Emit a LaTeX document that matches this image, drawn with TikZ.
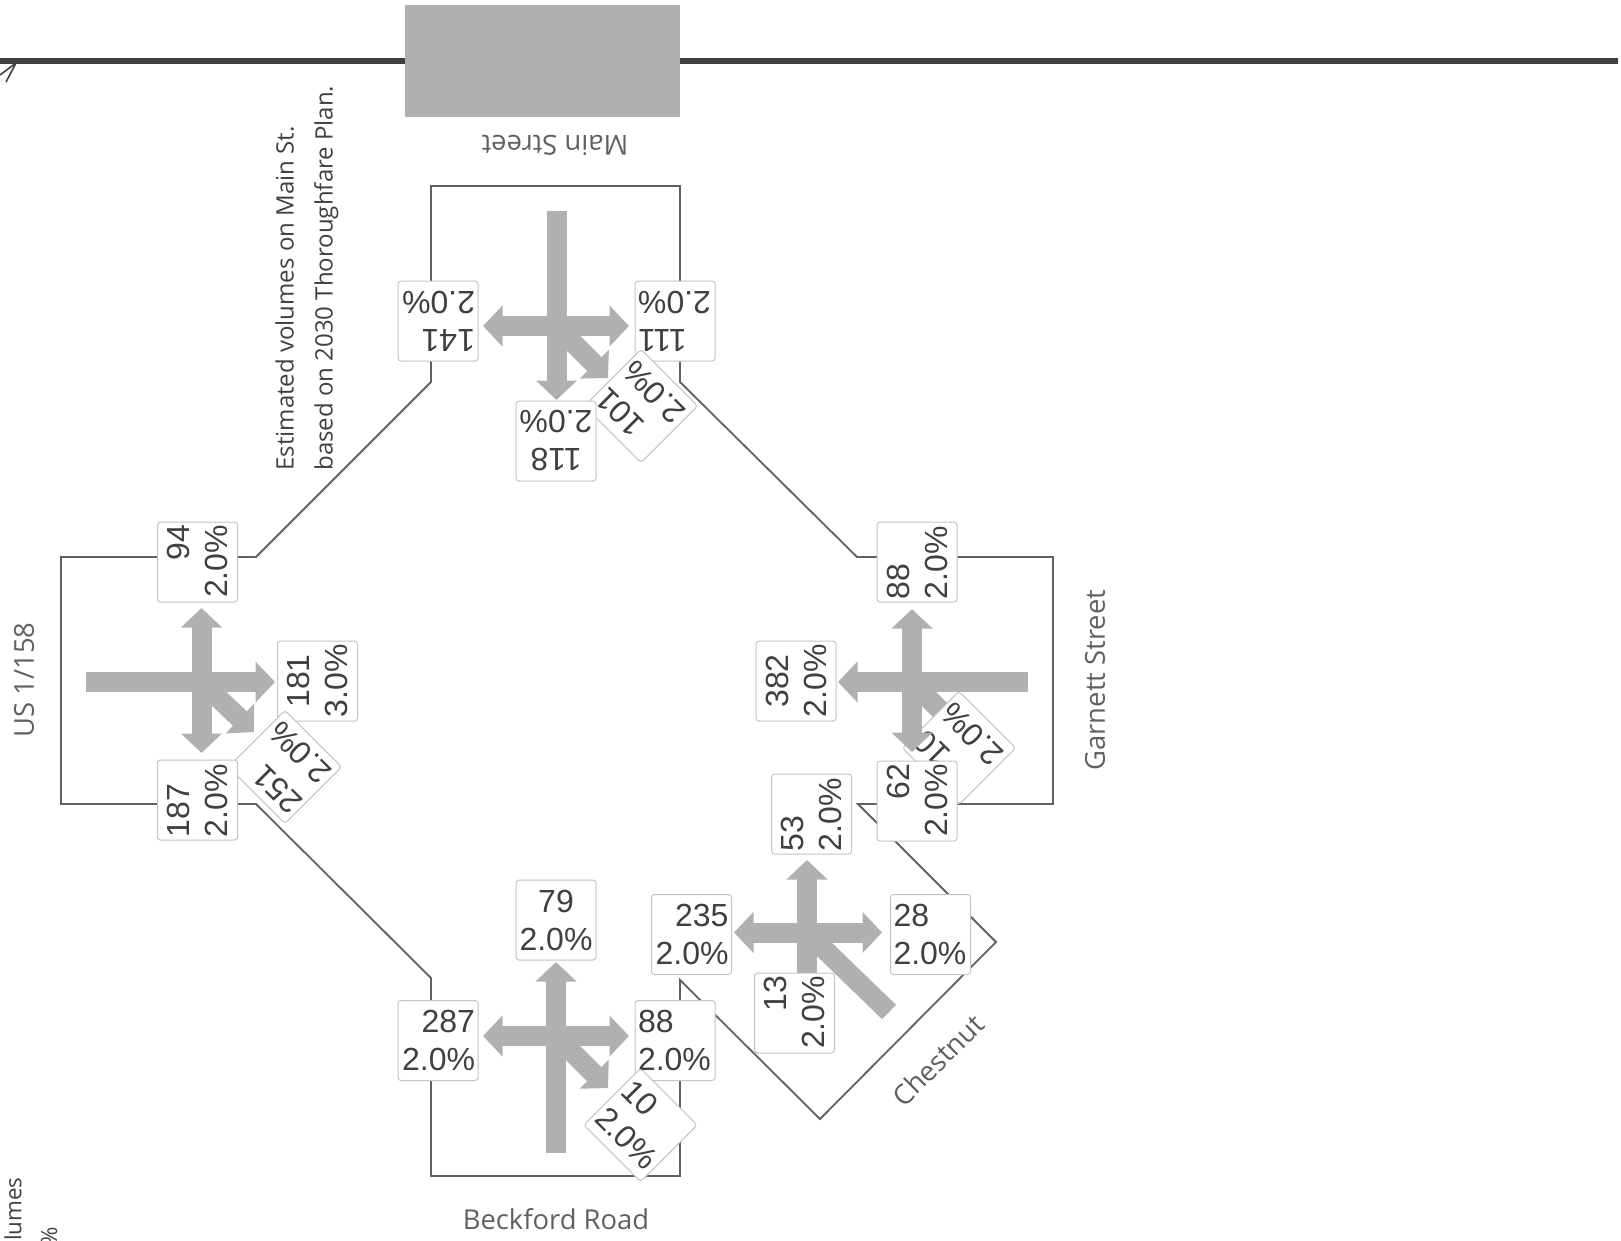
\documentclass[tikz,border=0pt]{standalone}
\usepackage{fontspec}
\usepackage{xcolor}
\setmainfont{Liberation Sans}
\newfontfamily\labelfont{Open Sans}
\usetikzlibrary{arrows.meta}
\definecolor{flowgray}{HTML}{B0B0B0}
\definecolor{roadgray}{HTML}{606060}
\definecolor{boxline}{HTML}{C4C4C4}
\definecolor{valtext}{HTML}{404040}

\begin{document}
\begin{tikzpicture}[
  x=0.5pt, y=-0.5pt,
  road/.style={draw=roadgray, line width=0.9pt, line join=miter},
  mainline/.style={draw=valtext, line width=2.6pt},
  flow/.style={draw=flowgray, line width=10pt, -{Triangle[length=9.75pt, width=20pt]}},
  flowboth/.style={draw=flowgray, line width=10pt, {Triangle[length=9.75pt, width=20pt]}-{Triangle[length=9.75pt, width=20pt]}},
  flowplain/.style={draw=flowgray, line width=10pt},
  valbox/.style={draw=boxline, line width=0.5pt, fill=white, rounded corners=1.5pt, minimum size=40pt, inner sep=0pt, text width=37pt, text=valtext, font=\fontsize{16}{19}\selectfont},
  streetname/.style={text=roadgray, font=\labelfont\fontsize{13.7}{15}\selectfont},
  note/.style={text=valtext, font=\labelfont\fontsize{12}{19.5}\selectfont},
  cutnote/.style={text=valtext, font=\labelfont\fontsize{11.2}{13}\selectfont}
]
\clip (0,0) rectangle (1621,1241);
\useasboundingbox (0,0) rectangle (1621,1241);

\coordinate (linestart) at (0,61);
\coordinate (lineend) at (1618,61);
\draw[mainline] (linestart) -- (lineend);
\node[fill=flowgray, minimum width=137.5pt, minimum height=56pt, inner sep=0pt] (mainbox) at (542.5,61) {};

\coordinate (tickleft) at (0,75);
\coordinate (ticktip) at (16,63);
\coordinate (tickend) at (6,82);
\draw[draw=valtext, line width=0.8pt] (tickleft) -- (ticktip) -- (tickend);

\node[streetname, rotate=180] (mainst) at (555,145) {Main Street};
\node[streetname, rotate=90] (usroute) at (24,680) {US 1/158};
\node[streetname, rotate=90] (garnett) at (1095,680) {Garnett Street};
\node[streetname] (beckford) at (556,1219) {Beckford Road};
\node[streetname, rotate=45] (chestnut) at (938,1060) {Chestnut};
\node[note, rotate=90, anchor=north west, align=left, inner sep=0pt] (estnote) at (275,471) {Estimated volumes on Main St.\\based on 2030 Thoroughfare Plan.};
\node[cutnote, rotate=90, anchor=east, inner sep=0pt] (cutvol) at (13,1177) {lumes};
\node[cutnote, rotate=90, anchor=east, inner sep=0pt] (cutpct) at (49,1227) {\%};

% road outline
\draw[road] (431,382) -- (431,186) -- (680,186) -- (680,382) -- (857,557) -- (1053,557) -- (1053,804) -- (858,804)
  -- (996,942) -- (820,1119) -- (680,980) -- (680,1176) -- (431,1176) -- (431,978) -- (256,804) -- (61,804)
  -- (61,557) -- (256,557) -- cycle;

% Main Street
\coordinate (tc) at (556.5,326);
\coordinate (tn) at (556.5,211);
\coordinate (ts) at (556.5,400);
\coordinate (te) at (629,326);
\coordinate (tw) at (483,326);
\coordinate (td) at (608,378);
\draw[flow] (tc) -- (td);
\draw[flowboth] (tw) -- (te);
\draw[flow] (tn) -- (ts);
\node[valbox, align=left, rotate=180] (v141) at (438,321) {141\\2.0\%};
\node[valbox, align=right, rotate=180] (v111) at (675,321) {111\\2.0\%};
\node[valbox, align=right, rotate=135] (v101) at (641,406) {101\\2.0\%};
\node[valbox, align=center, rotate=180] (v118) at (556,441) {118\\2.0\%};

% US 1/158
\coordinate (lc) at (201.5,682);
\coordinate (ln) at (201.5,608);
\coordinate (ls) at (201.5,753);
\coordinate (le) at (275,682);
\coordinate (lw) at (86,682);
\coordinate (ld) at (254,732);
\draw[flow] (lc) -- (ld);
\draw[flow] (lw) -- (le);
\draw[flowboth] (ln) -- (ls);
\node[valbox, align=center, rotate=90] (v181) at (317.5,681) {181\\3.0\%};
\node[valbox, align=left, rotate=135] (v251) at (285,767) {251\\[2pt]2.0\%};
\node[valbox, align=right, rotate=90] (v94) at (197.5,562) {94\\2.0\%};
\node[valbox, align=left, rotate=90] (v187) at (197.5,800) {187\\2.0\%};

% Garnett Street
\coordinate (rc) at (912,682);
\coordinate (rn) at (912,609);
\coordinate (rs) at (912,752);
\coordinate (re) at (1028,682);
\coordinate (rw) at (838,682);
\coordinate (rd) at (964,734);
\draw[flow] (rc) -- (rd);
\draw[flow] (re) -- (rw);
\node[valbox, align=right, rotate=135] (v10g) at (959,748) {10\\2.0\%};
\draw[flowboth] (rn) -- (rs);
\node[valbox, align=center, rotate=90] (v382) at (796,681) {382\\2.0\%};
\node[valbox, align=left, rotate=90] (v88g) at (917,562) {88\\2.0\%};
\node[valbox, align=right, rotate=90] (v62) at (917,801) {62\\2.0\%};

% Chestnut
\coordinate (cc) at (807,932.5);
\coordinate (cn) at (807,860);
\coordinate (cs) at (807,1023);
\coordinate (ce) at (882,932.5);
\coordinate (cw) at (734,932.5);
\coordinate (cd) at (889,1012);
\draw[flowplain] (cc) -- (cd);
\draw[flow] (cs) -- (cn);
\draw[flowboth] (cw) -- (ce);
\node[valbox, align=left, rotate=90] (v53) at (811.5,814) {53\\2.0\%};
\node[valbox, align=right, rotate=90] (v13) at (794.5,1013) {13\\2.0\%};
\node[valbox, align=right] (v235) at (691.5,934.5) {235\\2.0\%};
\node[valbox, align=left] (v28) at (930.5,934.5) {28\\2.0\%};

% Beckford Road
\coordinate (bc) at (556,1036);
\coordinate (bn) at (556,962);
\coordinate (bs) at (556,1153);
\coordinate (be) at (629,1036);
\coordinate (bw) at (483,1036);
\coordinate (bd) at (608,1088);
\draw[flow] (bc) -- (bd);
\draw[flow] (bs) -- (bn);
\draw[flowboth] (bw) -- (be);
\node[valbox, align=center] (v79) at (556,920) {79\\2.0\%};
\node[valbox, align=right] (v287) at (438,1040.5) {287\\2.0\%};
\node[valbox, align=left] (v88b) at (675,1040.5) {88\\2.0\%};
\node[valbox, align=left, rotate=-45] (v10b) at (640.5,1125) {10\\2.0\%};

\end{tikzpicture}
\end{document}
